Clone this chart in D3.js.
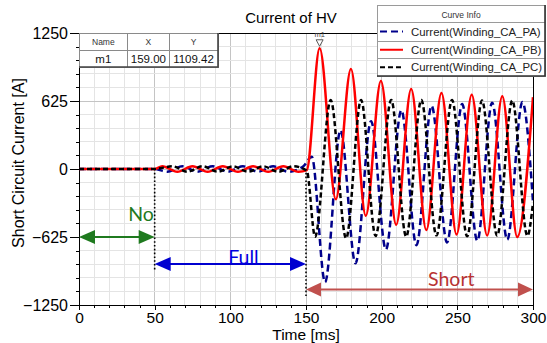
<!DOCTYPE html>
<html>
<head>
<meta charset="utf-8">
<script src="https://cdn.jsdelivr.net/npm/d3@7"></script>
<style>
  html, body { margin: 0; padding: 0; background: #ffffff; }
  svg { display: block; }
</style>
</head>
<body>
<svg id="chart" width="547" height="343"></svg>
<script>
// ---- Data: winding currents (turning points of each trace), time in ms, current in A ----
const seriesNames = ["Current(Winding_CA_PA)", "Current(Winding_CA_PB)", "Current(Winding_CA_PC)"];

const paTime    = [0, 50, 58.3, 68.3, 78.3, 88.3, 98.3, 108.3, 118.3, 128.3, 138.3, 148.3, 153.8,
                   162.6, 172.8, 182.7, 193.0, 202.8, 213.0, 223.0, 233.0, 243.2, 253.2, 263.2, 273.0, 283.0, 293.0, 300];
const paCurrent = [0, 0, -25, 25, -25, 25, -25, 25, -25, 25, -25, 25, 113,
                   -1040, 355, -867, 440, -740, 540, -700, 580, -675, 597, -660, 610, -650, 615, -300];

const pbTime    = [0, 50, 55, 65, 75, 85, 95, 105, 115, 125, 135, 145, 150.5,
                   159.0, 169.7, 179.7, 189.5, 199.5, 209.6, 219.5, 229.5, 239.5, 249.5, 259.5, 269.7, 279.7, 289.6, 300];
const pbCurrent = [0, 0, 25, -25, 25, -25, 25, -25, 25, -25, 25, -25, -10,
                   1109.42, -278, 920, -430, 808, -512, 736, -561, 699, -602, 683, -611, 668, -625, 660];

const pcTime    = [0, 50, 61.7, 71.7, 81.7, 91.7, 101.7, 111.7, 121.7, 131.7, 141.7, 150.5,
                   156.0, 166.3, 176.5, 186.4, 196.0, 206.3, 216.2, 226.2, 236.2, 246.5, 256.5, 266.3, 276.3, 286.3, 296.3, 300];
const pcCurrent = [0, 0, 25, -25, 25, -25, 25, -25, 25, -25, 25, -15,
                   -622, 634, -637, 634, -615, 634, -622, 634, -610, 634, -618, 630, -612, 630, -615, -310];

// Marker m1
const markerName = "m1";
const markerTime = 159.00;
const markerValue = 1109.42;

// Operating phases
const phaseLabels = ["No", "Full", "Short"];
const phaseStart  = [0, 50, 150];
const phaseEnd    = [50, 150, 300];
const phaseLevel  = [-625, -873, -1107];

// Axis ticks
const xTickLabels = [0, 50, 100, 150, 200, 250, 300];
const yTickLabels = [-1250, -625, 0, 625, 1250];

// ---- Layout & style ----
const W = 547, H = 343;
const plot = { left: 79, right: 533, top: 33, bottom: 305 };
const axisFont = "'Liberation Sans', Arial, sans-serif";
const noteFont = "Lato, 'Open Sans', sans-serif";
const traceStyle = [
  { color: "#00008b", width: 2.5, dash: "7,4" },
  { color: "#ff0000", width: 2.5, dash: null },
  { color: "#000000", width: 2.5, dash: "5,3" }
];
const phaseStyle = [
  { color: "#1f7a1f", text: "#1f7a1f", dx: 41,  base: -478, line: 2, head: 16, half: 7 },
  { color: "#0000d0", text: "#0000e0", dx: 108.7, base: -874, line: 2, head: 16, half: 7 },
  { color: "#c0504d", text: "#b83232", dx: 246, base: -1076, line: 2, head: 15, half: 7 }
];

const svg = d3.select("#chart");

const x = d3.scaleLinear().domain([0, 300]).range([plot.left, plot.right]);
const y = d3.scaleLinear().domain([-1250, 1250]).range([plot.bottom, plot.top]);

// Plot background
svg.append("rect")
  .attr("x", plot.left).attr("y", plot.top)
  .attr("width", plot.right - plot.left).attr("height", plot.bottom - plot.top)
  .attr("fill", "#ffffff");

// Grid
const grid = svg.append("g");
const xMinor = d3.range(10, 300, 10);
const yMinor = d3.range(-1125, 1250, 125);
grid.selectAll(".gx").data(xMinor).join("line")
  .attr("x1", d => x(d)).attr("x2", d => x(d))
  .attr("y1", plot.top).attr("y2", plot.bottom)
  .attr("stroke", d => d % 50 === 0 ? "#c4c4c4" : "#e4e4e4")
  .attr("stroke-width", 1).attr("shape-rendering", "crispEdges");
grid.selectAll(".gy").data(yMinor).join("line")
  .attr("x1", plot.left).attr("x2", plot.right)
  .attr("y1", d => y(d)).attr("y2", d => y(d))
  .attr("stroke", d => d % 625 === 0 ? "#c4c4c4" : "#e4e4e4")
  .attr("stroke-width", 1).attr("shape-rendering", "crispEdges");

// Axes
const xAxis = d3.axisBottom(x).tickValues(xTickLabels).tickSize(5).tickPadding(2).tickFormat(d3.format("d"));
const xAxisMinor = d3.axisBottom(x).tickValues(xMinor).tickSize(3).tickFormat("");
const yAxis = d3.axisLeft(y).tickValues(yTickLabels).tickSize(9).tickPadding(2).tickFormat(d3.format("d"));
const yAxisMinor = d3.axisLeft(y).tickValues(yMinor).tickSize(3).tickFormat("");

function styleAxis(g, size) {
  g.selectAll("path, line").attr("stroke", "#000").attr("shape-rendering", "crispEdges");
  g.selectAll("text").attr("fill", "#000").style("font-family", axisFont).style("font-size", size || "16px");
}
svg.append("g").attr("transform", `translate(0,${plot.bottom})`).call(xAxisMinor).call(styleAxis);
svg.append("g").attr("transform", `translate(0,${plot.bottom})`).call(xAxis).call(g => styleAxis(g, "15.5px"));
svg.append("g").attr("transform", `translate(${plot.left},0)`).call(yAxisMinor).call(styleAxis);
svg.append("g").attr("transform", `translate(${plot.left},0)`).call(yAxis).call(g => styleAxis(g, "16px"));

// Frame (top and right)
svg.append("path")
  .attr("d", `M${plot.left},${plot.top}H${plot.right}V${plot.bottom}`)
  .attr("fill", "none").attr("stroke", "#000").attr("stroke-width", 1)
  .attr("shape-rendering", "crispEdges");

// Titles
svg.append("text").attr("x", 291).attr("y", 23).attr("text-anchor", "middle")
  .style("font-family", axisFont).style("font-size", "15px").attr("fill", "#000")
  .text("Current of HV");
svg.append("text").attr("x", x(150)).attr("y", 339.5).attr("text-anchor", "middle")
  .style("font-family", axisFont).style("font-size", "15.5px").attr("fill", "#000")
  .text("Time [ms]");
svg.append("text").attr("transform", `translate(24,${(plot.top + plot.bottom) / 2 - 6}) rotate(-90)`)
  .attr("text-anchor", "middle")
  .style("font-family", axisFont).style("font-size", "16px").attr("fill", "#000")
  .text("Short Circuit Current [A]");

// Phase boundaries (dotted)
const boundaryLevels = [-935, -1180];
[50, 150].forEach((t, i) => {
  svg.append("line")
    .attr("x1", x(t)).attr("x2", x(t))
    .attr("y1", y(0)).attr("y2", y(boundaryLevels[i]))
    .attr("stroke", "#000").attr("stroke-width", 1.6)
    .attr("stroke-dasharray", "1.6,2.2");
});

// Traces
svg.append("clipPath").attr("id", "plotClip").append("rect")
  .attr("x", plot.left).attr("y", plot.top - 2)
  .attr("width", plot.right - plot.left).attr("height", plot.bottom - plot.top + 2);

const lineGen = d3.line().x(d => x(d[0])).y(d => y(d[1])).curve(d3.curveMonotoneX);
const traces = [
  d3.zip(paTime, paCurrent),
  d3.zip(pbTime, pbCurrent),
  d3.zip(pcTime, pcCurrent)
];
const traceLayer = svg.append("g").attr("clip-path", "url(#plotClip)");
traces.forEach((pts, i) => {
  traceLayer.append("path")
    .datum(pts)
    .attr("d", lineGen)
    .attr("fill", "none")
    .attr("stroke", traceStyle[i].color)
    .attr("stroke-width", traceStyle[i].width)
    .attr("stroke-dasharray", traceStyle[i].dash)
    .attr("stroke-linejoin", "round");
});

// Phase arrows
function arrow(t0, t1, v, st) {
  const g = svg.append("g");
  const x0 = x(t0), x1 = x(t1), yy = y(v);
  g.append("line")
    .attr("x1", x0 + st.head - 1).attr("x2", x1 - st.head + 1)
    .attr("y1", yy).attr("y2", yy)
    .attr("stroke", st.color).attr("stroke-width", st.line);
  g.append("path")
    .attr("d", `M${x0},${yy}L${x0 + st.head},${yy - st.half}L${x0 + st.head},${yy + st.half}Z`)
    .attr("fill", st.color);
  g.append("path")
    .attr("d", `M${x1},${yy}L${x1 - st.head},${yy - st.half}L${x1 - st.head},${yy + st.half}Z`)
    .attr("fill", st.color);
}
phaseLabels.forEach((label, i) => {
  const st = phaseStyle[i];
  arrow(phaseStart[i], phaseEnd[i], phaseLevel[i], st);
  svg.append("text")
    .attr("x", x(st.dx)).attr("y", y(st.base))
    .attr("text-anchor", "middle")
    .style("font-family", noteFont).style("font-size", "19.5px")
    .attr("fill", st.text)
    .text(label);
});

// Marker m1
const mx = x(markerTime), my = y(markerValue);
svg.append("path")
  .attr("d", `M${mx - 3.5},${my - 8.5}H${mx + 3.5}L${mx},${my - 2}Z`)
  .attr("fill", "#ffffff").attr("stroke", "#555").attr("stroke-width", 1);
svg.append("text").attr("x", mx).attr("y", my - 11).attr("text-anchor", "middle")
  .style("font-family", axisFont).style("font-size", "7.5px").attr("fill", "#444")
  .text(markerName);

// Marker table
const tbl = { cols: [79, 127.7, 169, 218], rows: [33, 50.5, 67] };
const tg = svg.append("g");
tg.append("rect").attr("x", tbl.cols[0]).attr("y", tbl.rows[0])
  .attr("width", tbl.cols[3] - tbl.cols[0]).attr("height", tbl.rows[2] - tbl.rows[0])
  .attr("fill", "#ffffff").attr("stroke", "#8a8a8a").attr("stroke-width", 1)
  .attr("shape-rendering", "crispEdges");
[1, 2].forEach(c => tg.append("line")
  .attr("x1", tbl.cols[c]).attr("x2", tbl.cols[c]).attr("y1", tbl.rows[0]).attr("y2", tbl.rows[2])
  .attr("stroke", "#8a8a8a").attr("shape-rendering", "crispEdges"));
tg.append("line").attr("x1", tbl.cols[0]).attr("x2", tbl.cols[3])
  .attr("y1", tbl.rows[1]).attr("y2", tbl.rows[1])
  .attr("stroke", "#8a8a8a").attr("shape-rendering", "crispEdges");
tg.append("path").attr("d", `M${tbl.cols[3]},${tbl.rows[0]}V${tbl.rows[2]}H${tbl.cols[0]}`)
  .attr("fill", "none").attr("stroke", "#444").attr("stroke-width", 1.6);
const headers = ["Name", "X", "Y"];
const rowVals = [markerName, markerTime.toFixed(2), markerValue.toFixed(2)];
headers.forEach((h, i) => {
  const cx = (tbl.cols[i] + tbl.cols[i + 1]) / 2;
  tg.append("text").attr("x", cx).attr("y", 45).attr("text-anchor", "middle")
    .style("font-family", axisFont).style("font-size", "8.5px").attr("fill", "#333").text(h);
  tg.append("text").attr("x", cx).attr("y", 63).attr("text-anchor", "middle")
    .style("font-family", axisFont).style("font-size", "11.5px").attr("fill", "#111").text(rowVals[i]);
});

// Legend
const lg = svg.append("g");
const L = { x0: 377, x1: 545, rows: [5, 22, 41, 58.5, 76] };
lg.append("rect").attr("x", L.x0).attr("y", L.rows[0])
  .attr("width", L.x1 - L.x0).attr("height", L.rows[4] - L.rows[0])
  .attr("fill", "#ffffff").attr("stroke", "#9a9a9a").attr("shape-rendering", "crispEdges");
[1, 2, 3].forEach(r => lg.append("line")
  .attr("x1", L.x0).attr("x2", L.x1).attr("y1", L.rows[r]).attr("y2", L.rows[r])
  .attr("stroke", "#9a9a9a").attr("shape-rendering", "crispEdges"));
lg.append("path").attr("d", `M${L.x1},${L.rows[0]}V${L.rows[4]}H${L.x0}`)
  .attr("fill", "none").attr("stroke", "#333").attr("stroke-width", 1.6);
lg.append("text").attr("x", (L.x0 + L.x1) / 2).attr("y", 17.5).attr("text-anchor", "middle")
  .style("font-family", axisFont).style("font-size", "8.5px").attr("fill", "#333").text("Curve Info");
seriesNames.forEach((name, i) => {
  const cy = (L.rows[i + 1] + L.rows[i + 2]) / 2;
  lg.append("line").attr("x1", 380).attr("x2", 403).attr("y1", cy).attr("y2", cy)
    .attr("stroke", traceStyle[i].color).attr("stroke-width", 2)
    .attr("stroke-dasharray", traceStyle[i].dash);
  lg.append("text").attr("x", 411).attr("y", cy + 4)
    .style("font-family", axisFont).style("font-size", "11.4px").attr("fill", "#222").text(name);
});
</script>
</body>
</html>
